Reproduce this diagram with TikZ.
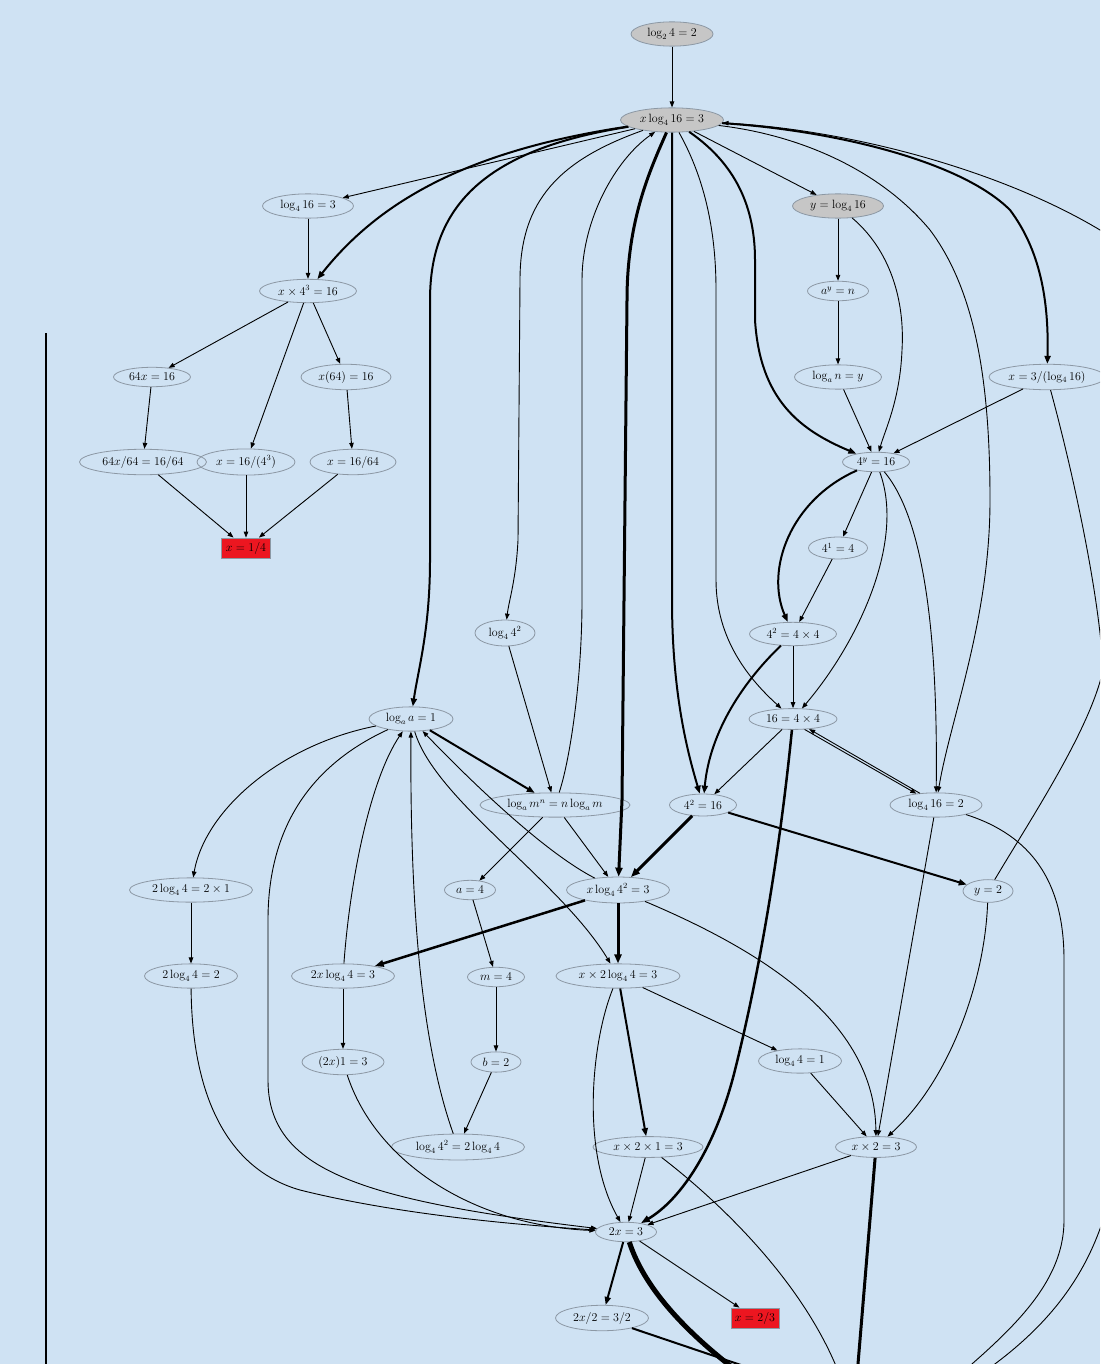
\documentclass[tikz,border=0pt]{standalone}
\usetikzlibrary{shapes.geometric,arrows.meta}
\definecolor{bgc}{RGB}{207,226,243}
\definecolor{ndb}{RGB}{140,152,164}
\definecolor{gfill}{RGB}{198,198,198}
\definecolor{rfill}{RGB}{236,22,32}
\tikzset{
 nd/.style={ellipse, draw=ndb, line width=0.8pt, inner xsep=0pt, inner ysep=3pt, minimum width=#1, font=\fontsize{12}{14}\selectfont},
 gnd/.style={nd=#1, fill=gfill},
 rbox/.style={rectangle, draw=ndb, line width=0.8pt, fill=rfill, minimum width=#1, minimum height=20pt, inner sep=1pt, font=\fontsize{12}{14}\selectfont},
 e/.style={line width=0.9pt, -{Triangle[length=6pt,width=4.5pt]}},
 ee/.style={line width=2pt, -{Triangle[length=8pt,width=6pt]}},
 eee/.style={line width=3pt, -{Triangle[length=9pt,width=7pt]}},
 ln/.style={line width=0.9pt},
}
\begin{document}
\begin{tikzpicture}[x=1pt,y=-1pt]
\useasboundingbox (0,0) rectangle (1100,1364);
\fill[bgc] (0,0) rectangle (1100,1364);
\clip (0,0) rectangle (1100,1364);
% nodes
\node[gnd=82] (A) at (672,34) {$\log_2 4 = 2$};
\node[gnd=103] (B) at (672,120) {$x\log_4 16 = 3$};
\node[nd=91] (C) at (308,206) {$\log_4 16 = 3$};
\node[gnd=91] (D) at (838,206) {$y = \log_4 16$};
\node[nd=97] (E) at (308,291) {$x \times 4^3 = 16$};
\node[nd=61] (F) at (838,291) {$a^y = n$};
\node[nd=77] (G) at (152,377) {$64x = 16$};
\node[nd=90] (H) at (346,377) {$x(64) = 16$};
\node[nd=87] (I) at (838,377) {$\log_a n = y$};
\node[nd=116] (J) at (1047,377) {$x = 3/(\log_4 16)$};
\node[nd=127] (K) at (143,462) {$64x/64 = 16/64$};
\node[nd=98] (L) at (246,462) {$x = 16/(4^3)$};
\node[nd=86] (M) at (353,462) {$x = 16/64$};
\node[nd=67] (N) at (876,462) {$4^y = 16$};
\node[rbox=49] (O) at (246,548) {$x = 1/4$};
\node[nd=59] (P) at (838,548) {$4^1 = 4$};
\node[nd=60] (Q) at (505,633) {$\log_4 4^2$};
\node[nd=87] (R) at (793,634) {$4^2 = 4\times 4$};
\node[nd=84] (S) at (411,719) {$\log_a a = 1$};
\node[nd=88] (T) at (793,719) {$16 = 4\times 4$};
\node[nd=150] (U) at (555,805) {$\log_a m^n = n\log_a m$};
\node[nd=67] (V) at (703,805) {$4^2 = 16$};
\node[nd=92] (W) at (936,805) {$\log_4 16 = 2$};
\node[nd=123] (X) at (191,890) {$2\log_4 4 = 2\times 1$};
\node[nd=51] (Y) at (470,890) {$a = 4$};
\node[nd=103] (Z) at (618,890) {$x\log_4 4^2 = 3$};
\node[nd=50] (AA) at (988,891) {$y = 2$};
\node[nd=93] (AB) at (191,976) {$2\log_4 4 = 2$};
\node[nd=103] (AC) at (343,976) {$2x\log_4 4 = 3$};
\node[nd=57] (AD) at (496,977) {$m = 4$};
\node[nd=124] (AE) at (618,976) {$x\times 2\log_4 4 = 3$};
\node[nd=82] (AF) at (343,1062) {$(2x)1 = 3$};
\node[nd=50] (AG) at (496,1062) {$b = 2$};
\node[nd=83] (AH) at (800,1061) {$\log_4 4 = 1$};
\node[nd=133] (AI) at (458,1147) {$\log_4 4^2 = 2\log_4 4$};
\node[nd=110] (AJ) at (648,1147) {$x\times 2\times 1 = 3$};
\node[nd=81] (AK) at (876,1147) {$x\times 2 = 3$};
\node[nd=61] (AL) at (626,1232) {$2x = 3$};
\node[nd=93] (AM) at (602,1318) {$2x/2 = 3/2$};
\node[rbox=48] (AN) at (755,1318) {$x = 2/3$};
% off-picture ends
\coordinate (offLoop) at (940,1400);
\coordinate (offW) at (930,1400);
\coordinate (offAJ) at (848,1400);
\coordinate (offAK) at (855,1400);
\coordinate (offAL) at (770,1395);
\coordinate (offAM) at (800,1385);
% left vertical line
\draw[line width=2pt] (46,333) -- (46,1370);
% edges
\draw[e] (A) -- (B);
\draw[e] (B) -- (C);
\draw[ee] (B) .. controls (470,150) and (380,200) .. (E);
\draw[ee] (B) .. controls (480,150) and (430,210) .. (430,300) -- (430,560) .. controls (430,630) and (418,670) .. (S);
\draw[e] (B) .. controls (560,160) and (520,200) .. (520,280) -- (518,540) .. controls (516,580) and (509,600) .. (Q);
\draw[e] (U) .. controls (570,760) and (582,680) .. (582,600) -- (582,280) .. controls (582,220) and (615,160) .. (B);
\draw[eee] (B) .. controls (650,170) and (627,220) .. (627,300) -- (622,800) -- (Z);
\draw[ee] (B) -- (672,600) .. controls (672,700) and (690,760) .. (V);
\draw[e] (B) .. controls (700,170) and (716,220) .. (716,290) -- (716,580) .. controls (716,640) and (750,680) .. (T);
\draw[ee] (B) .. controls (730,160) and (755,200) .. (755,260) -- (755,320) .. controls (760,400) and (800,430) .. (N);
\draw[e] (B) -- (D);
\draw[e] (B) .. controls (800,135) and (880,170) .. (930,230) .. controls (975,290) and (990,380) .. (990,500) .. controls (990,620) and (950,720) .. (W);
\draw[ee] (B) .. controls (830,130) and (960,160) .. (1010,210) .. controls (1040,250) and (1049,300) .. (J);
\draw[e] (offLoop) .. controls (1060,1330) and (1120,1250) .. (1120,1100) -- (1120,320) .. controls (1120,270) and (1115,245) .. (1100,230) .. controls (1000,170) and (850,130) .. (B);
\draw[ln] (J) .. controls (1075,480) and (1100,600) .. (1103,670) .. controls (1090,730) and (1030,820) .. (AA);
\draw[e] (D) -- (F);
\draw[e] (F) -- (I);
\draw[e] (I) -- (N);
\draw[e] (D) .. controls (890,250) and (905,300) .. (902,350) .. controls (900,400) and (885,430) .. (N);
\draw[e] (J) -- (N);
\draw[e] (C) -- (E);
\draw[e] (E) -- (G);
\draw[e] (E) -- (L);
\draw[e] (E) -- (H);
\draw[e] (G) -- (K);
\draw[e] (H) -- (M);
\draw[e] (K) -- (O);
\draw[e] (L) -- (O);
\draw[e] (M) -- (O);
\draw[e] (N) -- (P);
\draw[e] (P) -- (R);
\draw[ee] (N) .. controls (790,500) and (765,570) .. (R);
\draw[e] (N) .. controls (905,540) and (860,640) .. (T);
\draw[e] (N) .. controls (925,520) and (938,640) .. (W);
\draw[e] (R) -- (T);
\draw[ee] (R) .. controls (745,680) and (710,730) .. (V);
\draw[e] (T) -- (V);
\draw[e] (T.-42) -- (W.150);
\draw[e] (W.144) -- (T.-32);
\draw[line width=2.5pt, -{Triangle[length=9pt,width=6.5pt]}] (T) .. controls (780,850) and (760,970) .. (735,1070) .. controls (715,1150) and (680,1200) .. (AL);
\draw[eee] (V) -- (Z);
\draw[ee] (V) -- (AA);
\draw[e] (W) -- (AK);
\draw[ln] (W) .. controls (1030,835) and (1064,880) .. (1064,960) -- (1064,1220) .. controls (1064,1290) and (1000,1340) .. (offW);
\draw[e] (AA) .. controls (985,980) and (950,1080) .. (AK);
\draw[eee] (Z) -- (AE);
\draw[line width=2.5pt, -{Triangle[length=9pt,width=6.5pt]}] (Z) -- (AC);
\draw[e] (Z) .. controls (760,950) and (875,1020) .. (AK);
\draw[e] (Z) .. controls (540,850) and (460,770) .. (S);
\draw[e] (S) .. controls (435,800) and (560,880) .. (AE);
\draw[ee] (S) -- (U);
\draw[e] (Q) -- (U);
\draw[e] (S) .. controls (280,745) and (205,810) .. (X);
\draw[e] (S) .. controls (300,770) and (268,840) .. (268,920) -- (268,1080) .. controls (268,1170) and (360,1200) .. (AL);
\draw[e] (AC) .. controls (350,880) and (370,780) .. (S);
\draw[e] (AI) .. controls (420,1040) and (410,900) .. (S);
\draw[e] (X) -- (AB);
\draw[e] (AB) .. controls (192,1100) and (230,1170) .. (300,1190) .. controls (400,1215) and (520,1225) .. (AL);
\draw[e] (AC) -- (AF);
\draw[e] (AF) .. controls (375,1160) and (470,1225) .. (AL);
\draw[e] (U) -- (Y);
\draw[e] (U) -- (Z);
\draw[e] (Y) -- (AD);
\draw[e] (AD) -- (AG);
\draw[e] (AG) -- (AI);
\draw[e] (AE) -- (AH);
\draw[ee] (AE) -- (AJ);
\draw[e] (AE) .. controls (592,1040) and (580,1150) .. (AL);
\draw[e] (AH) -- (AK);
\draw[e] (AJ) -- (AL);
\draw[e] (AK) -- (AL);
\draw[ln] (AJ) .. controls (730,1210) and (820,1300) .. (offAJ);
\draw[line width=3pt] (AK) -- (offAK);
\draw[ee] (AL) -- (AM);
\draw[e] (AL) -- (AN);
\draw[line width=5pt] (AL) .. controls (645,1290) and (690,1340) .. (offAL);
\draw[line width=2pt] (AM) -- (offAM);
\end{tikzpicture}
\end{document}
